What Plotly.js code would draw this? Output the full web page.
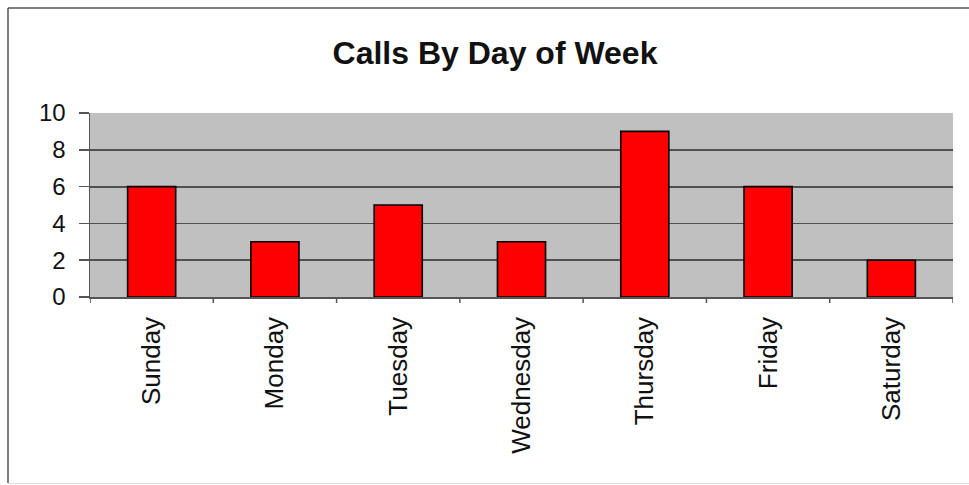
<!DOCTYPE html>
<html><head><meta charset="utf-8">
<script src="https://cdn.plot.ly/plotly-3.0.1.min.js"></script>
<style>html,body{margin:0;padding:0;background:#fff;}#chart{width:969px;height:485px;}</style>
</head><body><div id="chart"></div>
<script>
const days = ["Sunday","Monday","Tuesday","Wednesday","Thursday","Friday","Saturday"];
const calls = [6, 3, 5, 3, 9, 6, 2];
const yTicks = [0, 2, 4, 6, 8, 10];
const titleText = "Calls By Day of Week";

const W = 969, H = 485;
const m = {l: 90, r: 16, t: 113, b: 188};
const pw = W - m.l - m.r, ph = H - m.t - m.b;
const px = v => (v - m.l) / pw;
const py = v => 1 - (v - m.t) / ph;

const shapes = [
  {type:'line', xref:'paper', yref:'paper', x0:px(8), x1:px(8), y0:py(8), y1:py(483), line:{color:'#555', width:1.5}},
  {type:'line', xref:'paper', yref:'paper', x0:px(8), x1:px(975), y0:py(8), y1:py(8), line:{color:'#555', width:1.5}},
  {type:'line', xref:'paper', yref:'paper', x0:px(8), x1:px(975), y0:py(483.5), y1:py(483.5), line:{color:'#ddd', width:1}}
];
for (let i = 0; i <= days.length; i++) {
  shapes.push({type:'line', xref:'x', yref:'paper', x0:i-0.5, x1:i-0.5, y0:0, y1:py(297+6), line:{color:'#555', width:1.5}});
}

Plotly.newPlot('chart', [{
  type:'bar', x: days, y: calls,
  marker:{color:'#FF0000', line:{color:'#000', width:1.6}},
  width: 0.39, hoverinfo:'none'
}], {
  width: W, height: H,
  margin: m,
  paper_bgcolor:'#fff', plot_bgcolor:'#C0C0C0',
  showlegend:false,
  title:{text: titleText, x:495/W, xanchor:'center', y:1-53/H, yanchor:'middle',
         font:{family:'Liberation Sans, Arial, sans-serif', size:32, color:'#111', weight:'bold'}},
  font:{family:'Liberation Sans, Arial, sans-serif', color:'#111'},
  xaxis:{type:'category', range:[-0.5, days.length-0.5], tickangle:-90, ticks:'',
         tickfont:{size:26}, showgrid:false, zeroline:false, showline:true, linecolor:'#555', linewidth:1.5,
         ticklabelstandoff:8, fixedrange:true},
  yaxis:{range:[0,10], tickvals:yTicks, ticks:'outside', ticklen:10, tickcolor:'#555', tickwidth:1.5,
         tickfont:{size:24}, showgrid:true, gridcolor:'#505050', gridwidth:1.8, zeroline:false,
         showline:true, linecolor:'#555', linewidth:1.5, ticklabelstandoff:8, fixedrange:true},
  shapes: shapes
}, {staticPlot:true});
</script></body></html>
